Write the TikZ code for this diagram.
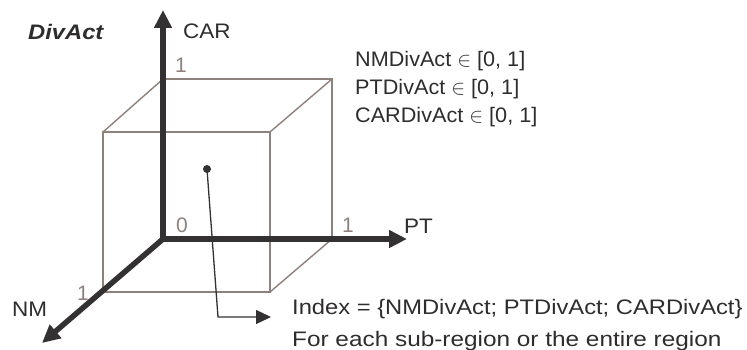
\documentclass[tikz,border=0pt]{standalone}
\usepackage{fontspec}
\setmainfont{Liberation Sans}
\usetikzlibrary{arrows.meta}
\definecolor{axiscol}{HTML}{333132}
\definecolor{cubecol}{HTML}{8E817C}
\definecolor{txtcol}{HTML}{2E2C2D}
\newcommand{\fs}[1]{\fontsize{21}{24}\selectfont\addfontfeature{FakeStretch=#1}}
\tikzset{
  axis/.style={draw=axiscol, line width=5.5pt, -{Triangle[length=18pt,width=17pt]}},
  cube/.style={draw=cubecol, line width=1.4pt},
  lbl/.style={text=txtcol, font=\fs{1.07}, inner sep=0pt, anchor=base west},
  num/.style={text=cubecol, font=\fs{1.0}, inner sep=0pt, anchor=base west},
  pointer/.style={draw=axiscol, line width=1.3pt, -{Triangle[length=15pt,width=14pt]}},
}
\begin{document}
\begin{tikzpicture}[x=1pt,y=-1pt]
\useasboundingbox (0,0) rectangle (747,350);
% cube corners: back face (b), front face (f)
\coordinate (b00) at (163,239);
\coordinate (b10) at (332,239);
\coordinate (b01) at (163,79);
\coordinate (b11) at (332,79);
\coordinate (f00) at (103,292);
\coordinate (f10) at (270,292);
\coordinate (f01) at (103,132);
\coordinate (f11) at (270,132);
% cube edges
\draw[cube] (f00) rectangle (f11);
\draw[cube] (b01) -- (b11) -- (b10);
\draw[cube] (f01) -- (b01);
\draw[cube] (f11) -- (b11);
\draw[cube] (f10) -- (b10);
% axes
\coordinate (o) at (163,239);
\coordinate (cartip) at (163,10);
\coordinate (pttip) at (407,239);
\coordinate (nmtip) at (42,343);
\draw[axis] (o) -- (cartip);
\draw[axis] (o) -- (pttip);
\draw[axis] (o) -- (nmtip);
% axis labels
\node[lbl, font=\fs{1.13}\bfseries\itshape] (divact) at (28,40) {DivAct};
\node[lbl] (car) at (183,39) {CAR};
\node[lbl] (pt) at (404,233) {PT};
\node[lbl] (nm) at (12,316) {NM};
\node[num] (n1car) at (175,73) {1};
\node[num] (n0) at (176,232) {0};
\node[num] (n1pt) at (342,232) {1};
\node[num] (n1nm) at (77,300) {1};
% ranges
\node[lbl, font=\fs{1.03}] (r1) at (355,67) {NMDivAct $\in$ [0, 1]};
\node[lbl, font=\fs{1.03}] (r2) at (355,95) {PTDivAct $\in$ [0, 1]};
\node[lbl, font=\fs{1.03}] (r3) at (355,123) {CARDivAct $\in$ [0, 1]};
% index
\node[lbl, font=\fs{1.13}] (idx) at (292,314) {Index = \{NMDivAct; PTDivAct; CARDivAct\}};
\node[lbl, font=\fs{1.16}] (each) at (292,346) {For each sub-region or the entire region};
% pointer
\node[circle, fill=axiscol, inner sep=0pt, minimum size=8pt] (dot) at (207,169) {};
\coordinate (bend) at (218,317);
\coordinate (ptr) at (271,317);
\draw[pointer] (dot.center) -- (bend) -- (ptr);
\end{tikzpicture}
\end{document}
